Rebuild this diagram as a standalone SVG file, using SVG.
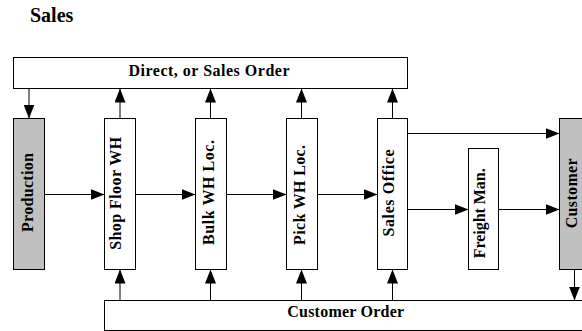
<svg xmlns="http://www.w3.org/2000/svg" width="582" height="331" viewBox="0 0 582 331">
<style>
.box{fill:#ffffff;stroke:#000000;stroke-width:1}
.gray{fill:#c0c0c0;stroke:#000000;stroke-width:1}
.lbl{font-family:'Liberation Serif','DejaVu Serif',serif;font-size:16px;font-weight:bold;fill:#000000}
.vl{font-family:'Liberation Serif','DejaVu Serif',serif;font-size:16px;font-weight:bold;fill:#000000;text-anchor:middle}
.title{font-family:'Liberation Serif','DejaVu Serif',serif;font-size:20px;font-weight:bold;fill:#000000}
.conn{fill:none;stroke:#000000;stroke-width:1;marker-end:url(#ah)}
</style>
<defs>
<marker id="ah" markerUnits="userSpaceOnUse" markerWidth="14" markerHeight="11" refX="14" refY="5.5" orient="auto">
<path d="M0,0 L14,5.5 L0,11 Z" fill="#000000"/>
</marker>
</defs>
<rect width="582" height="331" fill="#ffffff"/>
<text class="title" x="30" y="22" font-family="Liberation Serif, DejaVu Serif, serif">Sales</text>

<g id="direct-order">
<rect class="box" x="13.5" y="57.5" width="394" height="31"/>
<text class="lbl" x="209" y="75.5" text-anchor="middle" textLength="161" lengthAdjust="spacing" font-family="Liberation Serif, DejaVu Serif, serif">Direct, or Sales Order</text>
</g>
<g id="production">
<rect class="gray" x="13.5" y="118.5" width="31" height="151"/>
<text class="vl" transform="translate(32.5,192.5) rotate(-90)" textLength="79" lengthAdjust="spacing" font-family="Liberation Serif, DejaVu Serif, serif">Production</text>
</g>
<g id="shop-floor-wh">
<rect class="box" x="104.5" y="118.5" width="31" height="151"/>
<text class="vl" transform="translate(121,193.3) rotate(-90)" textLength="113" lengthAdjust="spacing" font-family="Liberation Serif, DejaVu Serif, serif">Shop Floor WH</text>
</g>
<g id="bulk-wh-loc">
<rect class="box" x="195.5" y="118.5" width="31" height="151"/>
<text class="vl" transform="translate(213.5,192.5) rotate(-90)" textLength="105" lengthAdjust="spacing" font-family="Liberation Serif, DejaVu Serif, serif">Bulk WH Loc.</text>
</g>
<g id="pick-wh-loc">
<rect class="box" x="286.5" y="118.5" width="31" height="151"/>
<text class="vl" transform="translate(305,195) rotate(-90)" textLength="100" lengthAdjust="spacing" font-family="Liberation Serif, DejaVu Serif, serif">Pick WH Loc.</text>
</g>
<g id="sales-office">
<rect class="box" x="377.5" y="118.5" width="30" height="151"/>
<text class="vl" transform="translate(393.5,193) rotate(-90)" textLength="87" lengthAdjust="spacing" font-family="Liberation Serif, DejaVu Serif, serif">Sales Office</text>
</g>
<g id="freight-man">
<rect class="box" x="468.5" y="148.5" width="30" height="121"/>
<text class="vl" transform="translate(485,213.3) rotate(-90)" textLength="90" lengthAdjust="spacing" font-family="Liberation Serif, DejaVu Serif, serif">Freight Man.</text>
</g>
<g id="customer">
<rect class="gray" x="559.5" y="118.5" width="40" height="151"/>
<text class="vl" transform="translate(577,193.3) rotate(-90)" textLength="70" lengthAdjust="spacing" font-family="Liberation Serif, DejaVu Serif, serif">Customer</text>
</g>
<g id="customer-order">
<rect class="box" x="104.5" y="300.5" width="490" height="30"/>
<text class="lbl" x="345.7" y="317" text-anchor="middle" textLength="117" lengthAdjust="spacing" font-family="Liberation Serif, DejaVu Serif, serif">Customer Order</text>
</g>

<g id="connectors">
<path class="conn" d="M29,88.5 V118.5"/>
<path class="conn" d="M120,118.5 V88.5"/>
<path class="conn" d="M210.5,118.5 V88.5"/>
<path class="conn" d="M301.5,118.5 V88.5"/>
<path class="conn" d="M392.5,118.5 V88.5"/>
<path class="conn" d="M44.5,194.5 H104.5"/>
<path class="conn" d="M135.5,194.5 H195.5"/>
<path class="conn" d="M226.5,194.5 H286.5"/>
<path class="conn" d="M317.5,194.5 H377.5"/>
<path class="conn" d="M407.5,133.5 H559.5"/>
<path class="conn" d="M407.5,209.5 H468.5"/>
<path class="conn" d="M498.5,209.5 H559.5"/>
<path class="conn" d="M120,300.5 V269.5"/>
<path class="conn" d="M210.5,300.5 V269.5"/>
<path class="conn" d="M301.5,300.5 V269.5"/>
<path class="conn" d="M392.5,300.5 V269.5"/>
<path class="conn" d="M574.5,269.5 V300.5"/>
</g>
</svg>
